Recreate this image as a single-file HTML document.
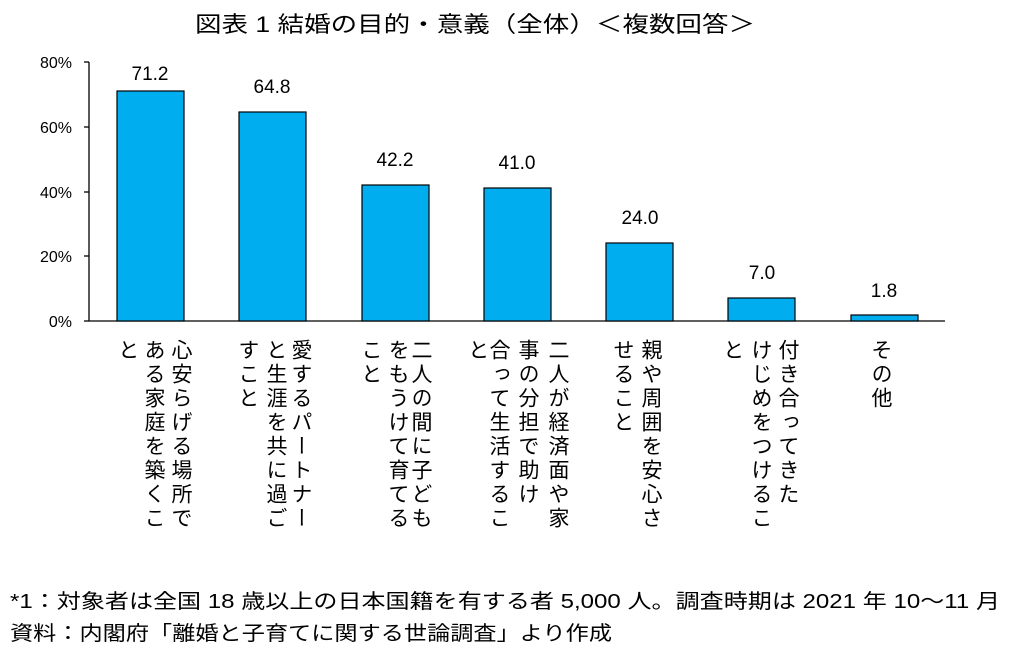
<!DOCTYPE html>
<html><head><meta charset="utf-8"><style>
body{margin:0;width:1014px;height:654px;background:#fff;overflow:hidden;position:relative;font-family:"Liberation Sans","Noto Sans CJK JP",sans-serif}
.c{position:absolute;top:339px;writing-mode:vertical-rl;font-size:21px;line-height:24px;letter-spacing:3px;color:#000;width:24px;text-align:start}
</style></head><body>
<svg width="1014" height="654" style="position:absolute;left:0;top:0" font-family="Liberation Sans, Noto Sans CJK JP, sans-serif">
<text x="195" y="32" font-size="22" textLength="560" lengthAdjust="spacingAndGlyphs">図表 1  結婚の目的・意義（全体）＜複数回答＞</text>
<g stroke="#000" stroke-width="1.3">
<line x1="89" y1="62" x2="89" y2="321"/>
<line x1="89" y1="321" x2="945" y2="321"/>
<line x1="84" y1="62" x2="89" y2="62"/>
<line x1="84" y1="127" x2="89" y2="127"/>
<line x1="84" y1="192" x2="89" y2="192"/>
<line x1="84" y1="256" x2="89" y2="256"/>
<line x1="84" y1="321" x2="89" y2="321"/>
</g>
<g font-size="16" text-anchor="end" fill="#000">
<text x="72" y="68">80%</text><text x="72" y="133">60%</text><text x="72" y="198">40%</text><text x="72" y="262">20%</text><text x="72" y="327">0%</text>
</g>
<g fill="#00aeef" stroke="#000" stroke-width="1.2">
<rect x="117" y="91" width="67" height="230"/>
<rect x="239" y="112" width="67" height="209"/>
<rect x="362" y="185" width="67" height="136"/>
<rect x="484" y="188" width="67" height="133"/>
<rect x="606" y="243" width="67" height="78"/>
<rect x="728" y="298" width="67" height="23"/>
<rect x="851" y="315" width="67" height="6"/>
</g>
<g font-size="19" text-anchor="middle" fill="#000">
<text x="150" y="80">71.2</text><text x="272" y="93">64.8</text><text x="395" y="166">42.2</text><text x="517" y="169">41.0</text><text x="640" y="224">24.0</text><text x="762" y="279">7.0</text><text x="884" y="297">1.8</text>
</g>
<text x="10" y="608" font-size="20" textLength="990" lengthAdjust="spacingAndGlyphs">*1：対象者は全国 18 歳以上の日本国籍を有する者 5,000 人。調査時期は 2021 年 10〜11 月</text>
<text x="10" y="640" font-size="20" textLength="602" lengthAdjust="spacingAndGlyphs">資料：内閣府「離婚と子育てに関する世論調査」より作成</text>
</svg>
<div class="c" style="left:168px">心安らげる場所で</div>
<div class="c" style="left:141px">ある家庭を築くこ</div>
<div class="c" style="left:115px">と</div>
<div class="c" style="left:288px">愛するパートナー</div>
<div class="c" style="left:263px">と生涯を共に過ご</div>
<div class="c" style="left:235px">すこと</div>
<div class="c" style="left:408px">二人の間に子ども</div>
<div class="c" style="left:385px">をもうけて育てる</div>
<div class="c" style="left:358px">こと</div>
<div class="c" style="left:545px">二人が経済面や家</div>
<div class="c" style="left:515px">事の分担で助け</div>
<div class="c" style="left:486px">合って生活するこ</div>
<div class="c" style="left:465px">と</div>
<div class="c" style="left:638px">親や周囲を安心さ</div>
<div class="c" style="left:610px">せること</div>
<div class="c" style="left:775px">付き合ってきた</div>
<div class="c" style="left:748px">けじめをつけるこ</div>
<div class="c" style="left:720px">と</div>
<div class="c" style="left:868px">その他</div>
</body></html>
